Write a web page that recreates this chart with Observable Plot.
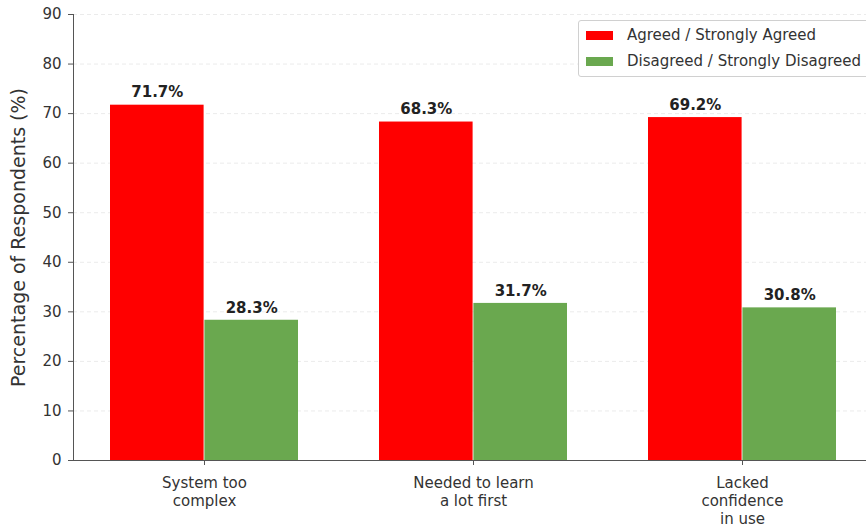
<!DOCTYPE html>
<html><head><meta charset="utf-8">
<script src="https://cdn.jsdelivr.net/npm/d3@7"></script>
<script src="https://cdn.jsdelivr.net/npm/@observablehq/plot@0.6"></script>
<style>
body{margin:0;background:#fff;}
#wrap{position:relative;width:866px;height:527px;overflow:hidden;font-family:"DejaVu Sans",sans-serif;}
#legend{position:absolute;left:578px;top:20px;width:310px;height:57px;border:1px solid #d0d0d0;border-radius:3px;background:rgba(255,255,255,0.85);box-sizing:border-box;}
.row{position:absolute;left:0;height:20px;display:flex;align-items:center;font-size:15px;color:#333;white-space:nowrap;}
.sw{display:inline-block;width:27px;height:9px;margin-left:7px;margin-right:14px;}
</style>
</head><body>
<div id="wrap"><div id="chart"></div><div id="legend"></div></div>
<script>
const categories = ["System too\ncomplex", "Needed to learn\na lot first", "Lacked\nconfidence\nin use"];
const seriesNames = ["Agreed / Strongly Agreed", "Disagreed / Strongly Disagreed"];
const agreed = [71.7, 68.3, 69.2];
const disagreed = [28.3, 31.7, 30.8];
const yTicks = [0, 10, 20, 30, 40, 50, 60, 70, 80, 90];
const colors = ["#ff0000", "#6aa84f"];
const yLabel = "Percentage of Respondents (%)";

const agreedData = categories.map((c, i) => ({cat: c, value: agreed[i]}));
const disagreedData = categories.map((c, i) => ({cat: c, value: disagreed[i]}));

const xRange = [73, 874];
const bw = d3.scaleBand().domain(categories).range(xRange).paddingInner(0.3).paddingOuter(0.135).bandwidth();
const half = bw / 2;

const chart = Plot.plot({
  width: 866, height: 527,
  marginTop: 14, marginBottom: 67, marginLeft: 73, marginRight: 0,
  style: {fontFamily: "DejaVu Sans, sans-serif", color: "#333", background: "#fff"},
  x: {domain: categories, range: xRange, paddingInner: 0.3, paddingOuter: 0.135},
  y: {domain: [0, 90]},
  marks: [
    Plot.ruleY(yTicks.filter(d => d > 0), {stroke: "#ebebeb", strokeDasharray: "4,3"}),
    Plot.barY(agreedData, {x: "cat", y: "value", fill: colors[0], insetRight: half}),
    Plot.barY(disagreedData, {x: "cat", y: "value", fill: colors[1], insetLeft: half}),
    Plot.text(agreedData, {x: "cat", y: "value", text: d => d.value.toFixed(1) + "%", dx: -half / 2, dy: -12.5, fontWeight: "bold", fontSize: 15, fill: "#222"}),
    Plot.text(disagreedData, {x: "cat", y: "value", text: d => d.value.toFixed(1) + "%", dx: half / 2, dy: -12.5, fontWeight: "bold", fontSize: 15, fill: "#222"}),
    Plot.frame({anchor: "left", stroke: "#555"}),
    Plot.frame({anchor: "bottom", stroke: "#555"}),
    Plot.axisY({ticks: yTicks, tickSize: 5, tickPadding: 7, fontSize: 15, label: null, stroke: "#555"}),
    Plot.axisX({tickSize: 5, tickPadding: 10, fontSize: 15, lineHeight: 1.2, label: null, stroke: "#555"}),
    Plot.text([yLabel], {frameAnchor: "left", textAnchor: "middle", rotate: -90, dx: -55, fontSize: 19, fill: "#333"})
  ]
});
document.getElementById("chart").appendChild(chart);

const legend = document.getElementById("legend");
seriesNames.forEach((name, i) => {
  const row = document.createElement("div");
  row.className = "row";
  row.style.top = (4 + i * 26) + "px";
  const sw = document.createElement("span");
  sw.className = "sw";
  sw.style.background = colors[i];
  row.appendChild(sw);
  row.appendChild(document.createTextNode(name));
  legend.appendChild(row);
});
</script>
</body></html>
